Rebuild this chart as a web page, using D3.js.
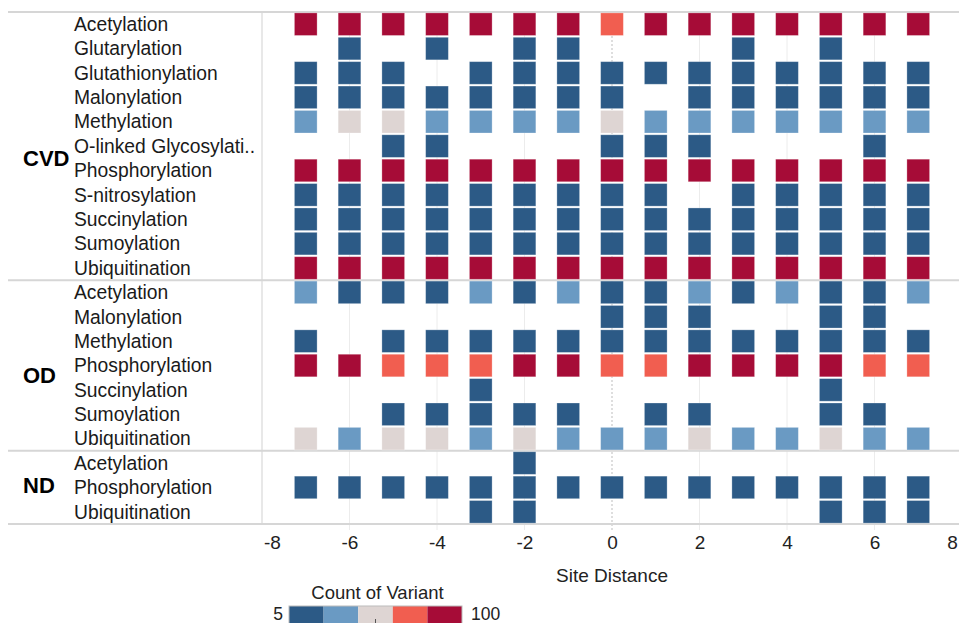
<!DOCTYPE html>
<html>
<head>
<meta charset="utf-8">
<script src="https://cdn.jsdelivr.net/npm/d3@7"></script>
<style>
  body { margin: 0; background: #fff; }
  svg { display: block; font-family: "Liberation Sans", Arial, sans-serif; }
</style>
</head>
<body>
<div id="chart"></div>
<script>
// site distance columns
const sites = [-7, -6, -5, -4, -3, -2, -1, 0, 1, 2, 3, 4, 5, 6, 7];
const xTicks = [-8, -6, -4, -2, 0, 2, 4, 6, 8];
const _ = null;

// count of variant per row (null = no mark)
const cvdRows = ['Acetylation', 'Glutarylation', 'Glutathionylation', 'Malonylation', 'Methylation',
  'O-linked Glycosylati..', 'Phosphorylation', 'S-nitrosylation', 'Succinylation', 'Sumoylation', 'Ubiquitination'];
const cvdValues = [
  [92, 95, 90, 94, 91, 93, 89, 72, 90, 96, 92, 94, 91, 93, 95],
  [_, 12, _, 10, _, 11, 14, _, _, _, 9, _, 13, _, _],
  [14, 18, 13, _, 15, 16, 12, 17, 11, 15, 13, 14, 16, 12, 15],
  [16, 14, 12, 11, 15, 17, 13, 18, _, 14, 16, 12, 15, 13, 17],
  [32, 48, 50, 35, 30, 33, 31, 52, 34, 29, 32, 30, 33, 31, 34],
  [_, _, 9, 8, _, _, _, 12, 10, 11, _, _, _, 9, _],
  [96, 94, 97, 93, 95, 98, 92, 97, 94, 96, 93, 95, 97, 94, 96],
  [17, 15, 16, 14, 18, 15, 13, 19, 16, _, 14, 15, 17, 16, 14],
  [19, 17, 18, 16, 15, 18, 17, 20, 16, 14, 18, 17, 19, 15, 16],
  [15, 16, 14, 17, 16, 15, 18, 17, 15, 16, 14, 17, 16, 18, 15],
  [97, 95, 98, 96, 94, 97, 95, 99, 96, 98, 94, 97, 95, 96, 98]
];

const odRows = ['Acetylation', 'Malonylation', 'Methylation', 'Phosphorylation', 'Succinylation', 'Sumoylation', 'Ubiquitination'];
const odValues = [
  [30, 18, 20, 17, 31, 19, 29, 21, 20, 33, 18, 30, 22, 19, 28],
  [_, _, _, _, _, _, _, 10, 11, 12, _, _, 9, 10, _],
  [14, _, 13, 15, 16, 12, 14, 17, 15, 13, 16, 14, 18, 15, 13],
  [88, 90, 70, 72, 68, 91, 89, 71, 70, 92, 90, 93, 94, 69, 73],
  [_, _, _, _, 8, _, _, _, _, _, _, _, 9, _, _],
  [_, _, 11, 10, 12, 9, 13, _, 10, 11, _, _, 12, 10, _],
  [50, 32, 49, 51, 30, 52, 31, 33, 30, 48, 32, 31, 50, 33, 30]
];

const ndRows = ['Acetylation', 'Phosphorylation', 'Ubiquitination'];
const ndValues = [
  [_, _, _, _, _, 8, _, _, _, _, _, _, _, _, _],
  [15, 14, 16, 13, 17, 18, 15, 16, 14, 15, 13, 16, 18, 17, 16],
  [_, _, _, _, 10, 11, _, _, _, _, _, _, 9, 10, 12]
];

const groupNames = ['CVD', 'OD', 'ND'];
const colorSteps = ['#2c5a86', '#6a9ac3', '#ded5d3', '#f15e50', '#a60c37'];
const countRange = [5, 100];

const W = 959, H = 623;
const plotTop = 12, plotBottom = 524, paneLeft = 262;

const groups = [
  { name: groupNames[0], rows: cvdRows, values: cvdValues },
  { name: groupNames[1], rows: odRows, values: odValues },
  { name: groupNames[2], rows: ndRows, values: ndValues }
];

// flatten into rows with a unique key
const rowList = [];
groups.forEach(g => g.rows.forEach((r, i) => rowList.push({ key: g.name + '|' + r, label: r, group: g.name, values: g.values[i] })));

const cells = [];
rowList.forEach(r => r.values.forEach((v, i) => {
  if (v !== null) cells.push({ key: r.key, site: sites[i], value: v });
}));

const svg = d3.select('#chart').append('svg')
  .attr('width', W)
  .attr('height', H);

const x = d3.scaleLinear().domain([-8, 8]).range([paneLeft, paneLeft + 700]);
const y = d3.scaleBand().domain(rowList.map(r => r.key)).range([plotTop, plotBottom]);
const color = d3.scaleQuantize().domain(countRange).range(colorSteps);

// vertical gridlines
svg.append('g').selectAll('line')
  .data(xTicks.filter(t => t !== 0 && t !== -8))
  .enter().append('line')
  .attr('x1', d => x(d)).attr('x2', d => x(d))
  .attr('y1', plotTop).attr('y2', plotBottom + 6)
  .attr('stroke', '#ececec')
  .attr('stroke-width', 1);

// zero line (dotted)
svg.append('line')
  .attr('x1', x(0)).attr('x2', x(0))
  .attr('y1', plotTop).attr('y2', plotBottom + 6)
  .attr('stroke', '#bdbdbd')
  .attr('stroke-dasharray', '2,2');

// pane left edge
svg.append('line')
  .attr('x1', paneLeft).attr('x2', paneLeft)
  .attr('y1', plotTop).attr('y2', plotBottom)
  .attr('stroke', '#d9d9d9')
  .attr('stroke-width', 1.2);

// group separators
const groupBounds = groups.map(g => {
  const first = y(g.name + '|' + g.rows[0]);
  const last = y(g.name + '|' + g.rows[g.rows.length - 1]) + y.bandwidth();
  return { name: g.name, y0: first, y1: last };
});

svg.append('g').selectAll('line')
  .data([plotTop].concat(groupBounds.map(b => b.y1)))
  .enter().append('line')
  .attr('x1', 8).attr('x2', W)
  .attr('y1', d => d).attr('y2', d => d)
  .attr('stroke', '#d6d6d6')
  .attr('stroke-width', 2);

// cells
const cw = 22.7;
svg.append('g').selectAll('rect')
  .data(cells)
  .enter().append('rect')
  .attr('x', d => x(d.site) - cw / 2)
  .attr('y', d => y(d.key) + 0.9)
  .attr('width', cw)
  .attr('height', y.bandwidth() - 1.8)
  .attr('fill', d => color(d.value))
  .attr('stroke', '#ffffff')
  .attr('stroke-opacity', 0.35)
  .attr('stroke-width', 0.8);

// row labels
svg.append('g').selectAll('text')
  .data(rowList)
  .enter().append('text')
  .attr('x', 74)
  .attr('y', d => y(d.key) + y.bandwidth() / 2)
  .attr('dy', '0.35em')
  .style('font-size', '19.3px')
  .style('fill', '#1a1a1a')
  .text(d => d.label);

// group labels
const groupDy = { CVD: 12, OD: 10, ND: -2 };
svg.append('g').selectAll('text')
  .data(groupBounds)
  .enter().append('text')
  .attr('x', 23)
  .attr('y', d => (d.y0 + d.y1) / 2 + groupDy[d.name])
  .attr('dy', '0.35em')
  .style('font-size', '22px')
  .style('font-weight', 'bold')
  .style('fill', '#000')
  .text(d => d.name);

// x axis
const xAxisGroup = svg.append('g')
  .attr('transform', `translate(0,${plotBottom})`)
  .call(d3.axisBottom(x).tickValues(xTicks).tickSize(0).tickPadding(12).tickFormat(d => String(d)));
xAxisGroup.select('.domain').remove();
xAxisGroup.selectAll('text')
  .style('font-size', '19px')
  .style('font-family', '"Liberation Sans", Arial, sans-serif')
  .style('fill', '#222')
  .attr('x', d => d === -8 ? 10 : (d === 8 ? -10 : 0));

svg.append('text')
  .attr('x', x(0))
  .attr('y', 582)
  .attr('text-anchor', 'middle')
  .style('font-size', '19px')
  .style('fill', '#222')
  .text('Site Distance');

// legend
const lx = 289, lw = 173, ly = 606;
const legendX = d3.scaleLinear().domain([0, colorSteps.length]).range([lx, lx + lw]);
svg.append('text')
  .attr('x', lx + lw / 2 + 2)
  .attr('y', 599)
  .attr('text-anchor', 'middle')
  .style('font-size', '18.5px')
  .style('fill', '#222')
  .text('Count of Variant');

svg.append('g').selectAll('rect')
  .data(colorSteps)
  .enter().append('rect')
  .attr('x', (d, i) => legendX(i))
  .attr('y', ly)
  .attr('width', (d, i) => legendX(i + 1) - legendX(i))
  .attr('height', 20)
  .attr('fill', d => d);

svg.append('rect')
  .attr('x', lx).attr('y', ly)
  .attr('width', lw).attr('height', 20)
  .attr('fill', 'none')
  .attr('stroke', '#bbb');

svg.append('line')
  .attr('x1', legendX(2.5)).attr('x2', legendX(2.5))
  .attr('y1', 619).attr('y2', 623)
  .attr('stroke', '#555');

svg.append('text')
  .attr('x', lx - 6)
  .attr('y', 620)
  .attr('text-anchor', 'end')
  .style('font-size', '17.5px')
  .style('fill', '#222')
  .text(countRange[0]);

svg.append('text')
  .attr('x', lx + lw + 9)
  .attr('y', 620)
  .style('font-size', '17.5px')
  .style('fill', '#222')
  .text(countRange[1]);
</script>
</body>
</html>
